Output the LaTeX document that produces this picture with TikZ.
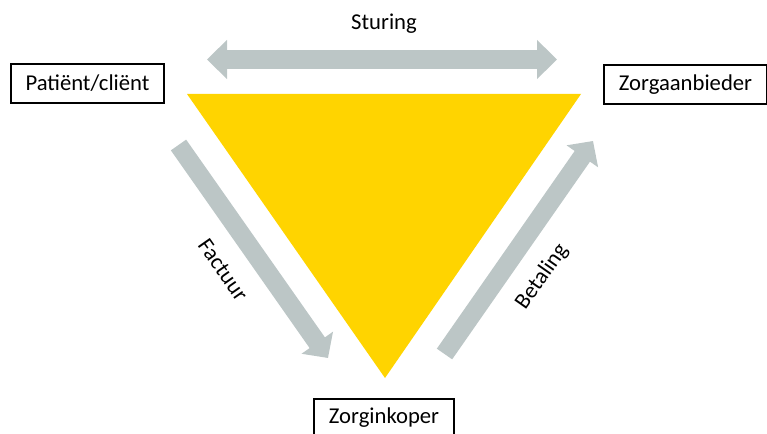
\documentclass[tikz,border=0pt]{standalone}
\usepackage{fontspec}
\setmainfont{Carlito}
\usetikzlibrary{arrows.meta}
\definecolor{flowgray}{RGB}{188,198,198}
\definecolor{triyellow}{RGB}{255,212,0}
\begin{document}
\begin{tikzpicture}[x=0.75pt,y=-0.75pt,
  actor/.style={draw=black,line width=1.5pt,fill=white,inner xsep=11pt,minimum height=29pt,font=\fontsize{17}{20}\selectfont},
  lbl/.style={font=\fontsize{17}{20}\selectfont},
  flow/.style={draw=flowgray,line width=14pt,-{Triangle[width=28pt,length=14pt]}},
  flowboth/.style={draw=flowgray,line width=14pt,{Triangle[width=28.5pt,length=15pt]}-{Triangle[width=28.5pt,length=15pt]}}]
\useasboundingbox (0,0) rectangle (767,434);
\fill[triyellow] (187,94) -- (581,94) -- (385,378) -- cycle;
\node[actor] (pat) at (87.5,83.5) {Patiënt/cliënt};
\node[actor] (zab) at (685.5,84.5) {Zorgaanbieder};
\node[actor] (zik) at (384,418) {Zorginkoper};
\coordinate (sL) at (207,59.5);
\coordinate (sR) at (557,59.5);
\coordinate (fA) at (178.5,145);
\coordinate (fB) at (328,358);
\coordinate (bA) at (444.5,354);
\coordinate (bB) at (593,141);
\draw[flowboth] (sL) -- (sR);
\draw[flow] (fA) -- (fB);
\draw[flow] (bA) -- (bB);
\node[lbl] (st) at (384,24) {Sturing};
\node[lbl,rotate=-55] (fa) at (223,270) {Factuur};
\node[lbl,rotate=55] (be) at (542,277) {Betaling};
\end{tikzpicture}
\end{document}
